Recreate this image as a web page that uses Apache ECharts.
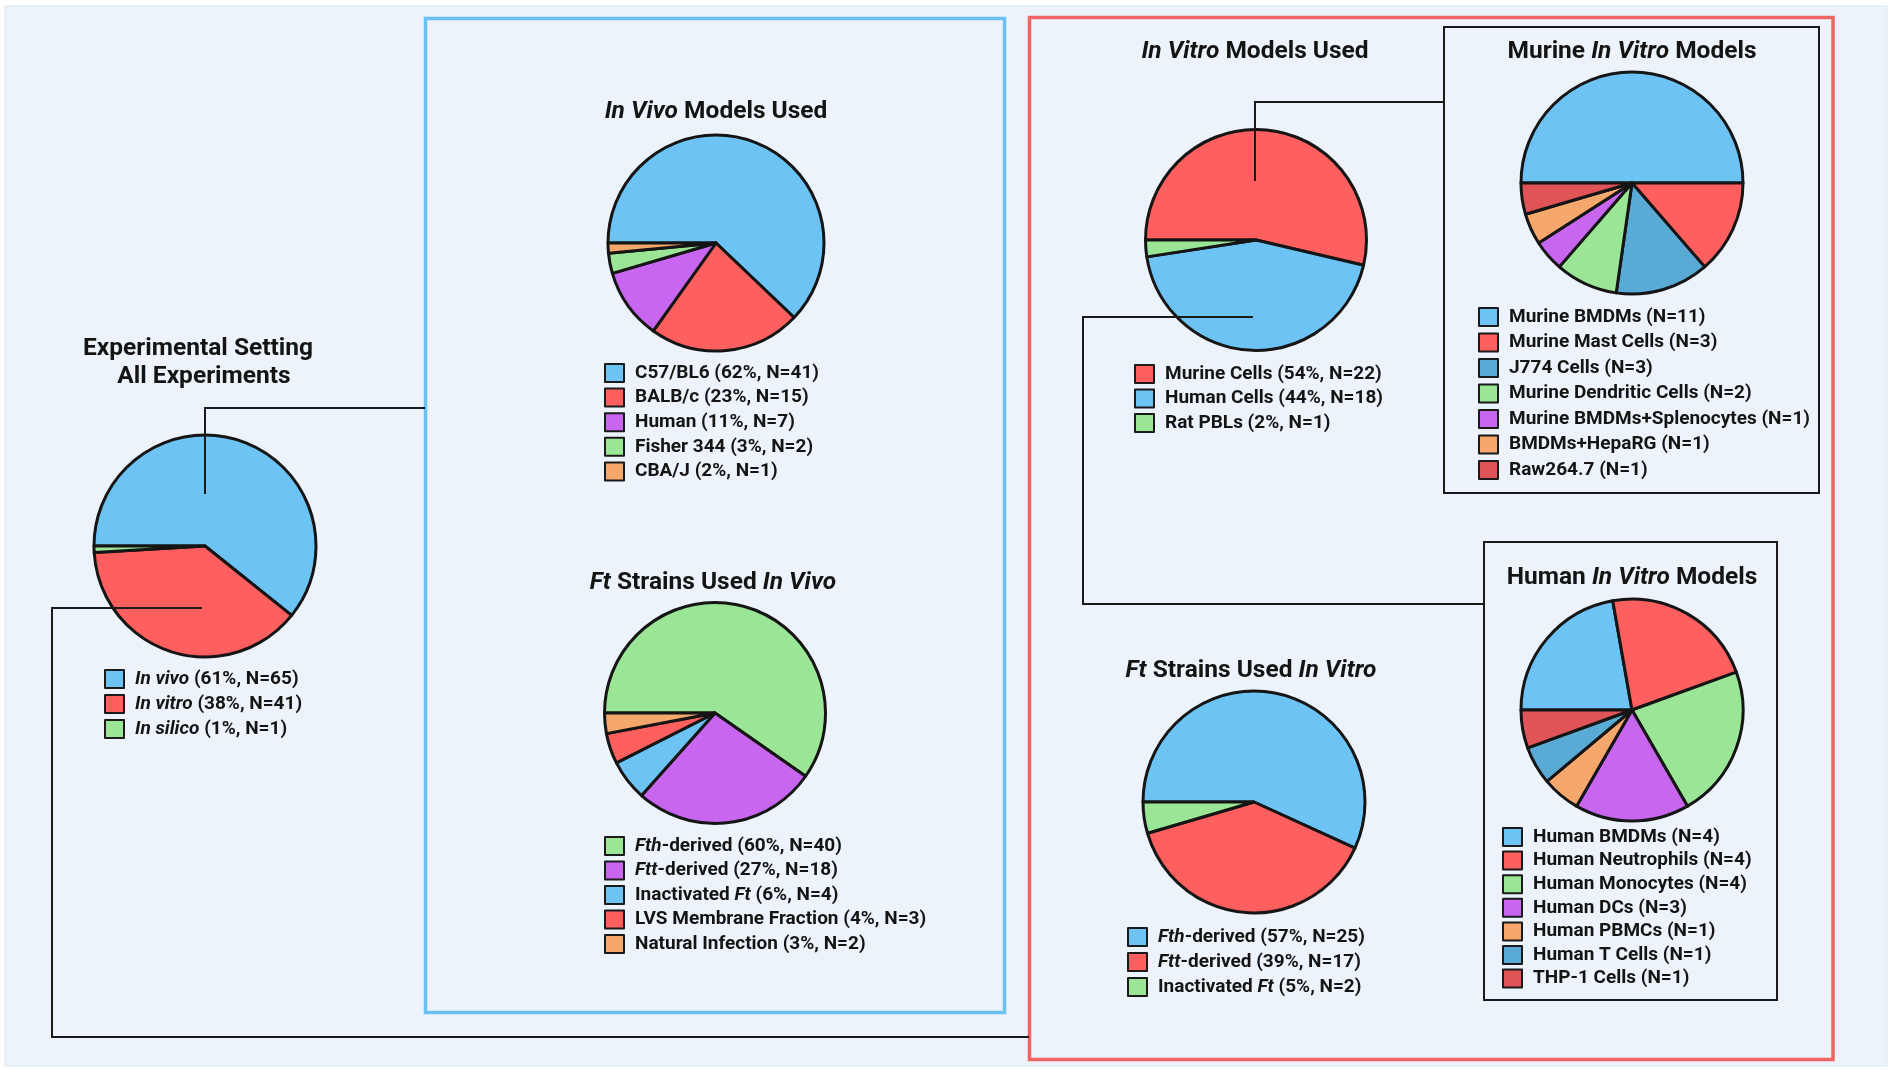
<!DOCTYPE html>
<html>
<head>
<meta charset="utf-8">
<script src="https://cdn.jsdelivr.net/npm/echarts@6.0.0/dist/echarts.min.js"></script>
<style>
  html, body { margin: 0; padding: 0; background: #ffffff; }
  #chart { width: 1892px; height: 1070px; }
</style>
</head>
<body>
<div id="chart"></div>
<script>
// ---------------- DATA ----------------
const C_BLUE = '#6cc3f4', C_RED = '#ff5f5f', C_PURPLE = '#c866f0', C_GREEN = '#9be596',
      C_ORANGE = '#f5a76c', C_STEEL = '#5aaad6', C_DRED = '#e05458';

const settingNames = ['In vivo', 'In vitro', 'In silico'];
const settingValues = [65, 41, 1];
const settingPct = [61, 38, 1];
const settingColors = [C_BLUE, C_RED, C_GREEN];

const vivoNames = ['C57/BL6', 'BALB/c', 'Human', 'Fisher 344', 'CBA/J'];
const vivoValues = [41, 15, 7, 2, 1];
const vivoPct = [62, 23, 11, 3, 2];
const vivoColors = [C_BLUE, C_RED, C_PURPLE, C_GREEN, C_ORANGE];

const ftVivoNames = ['Fth-derived', 'Ftt-derived', 'Inactivated Ft', 'LVS Membrane Fraction', 'Natural Infection'];
const ftVivoValues = [40, 18, 4, 3, 2];
const ftVivoPct = [60, 27, 6, 4, 3];
const ftVivoColors = [C_GREEN, C_PURPLE, C_BLUE, C_RED, C_ORANGE];

const vitroNames = ['Murine Cells', 'Human Cells', 'Rat PBLs'];
const vitroValues = [22, 18, 1];
const vitroPct = [54, 44, 2];
const vitroColors = [C_RED, C_BLUE, C_GREEN];

const murineNames = ['Murine BMDMs', 'Murine Mast Cells', 'J774 Cells', 'Murine Dendritic Cells',
                     'Murine BMDMs+Splenocytes', 'BMDMs+HepaRG', 'Raw264.7'];
const murineValues = [11, 3, 3, 2, 1, 1, 1];
const murineColors = [C_BLUE, C_RED, C_STEEL, C_GREEN, C_PURPLE, C_ORANGE, C_DRED];

const ftVitroNames = ['Fth-derived', 'Ftt-derived', 'Inactivated Ft'];
const ftVitroValues = [25, 17, 2];
const ftVitroPct = [57, 39, 5];
const ftVitroColors = [C_BLUE, C_RED, C_GREEN];

const humanNames = ['Human BMDMs', 'Human Neutrophils', 'Human Monocytes', 'Human DCs',
                    'Human PBMCs', 'Human T Cells', 'THP-1 Cells'];
const humanValues = [4, 4, 4, 3, 1, 1, 1];
const humanColors = [C_BLUE, C_RED, C_GREEN, C_PURPLE, C_ORANGE, C_STEEL, C_DRED];

// ---------------- HELPERS ----------------
const FONT = 'Roboto';
const INK = '#141414';

function labels(names, values, pct) {
  return names.map((n, i) => pct ? `${n} (${pct[i]}%, N=${values[i]})` : `${n} (N=${values[i]})`);
}
function italicize(s) {
  return s.replace(/\b(In vivo|In vitro|In silico|Fth|Ftt|Ft)\b/g, '{i|$1}');
}

const series = [];
const legends = [];

function addPie(id, names, values, pct, colors, center, radius, legendLeft, legendFirstY, pitch) {
  const labs = labels(names, values, pct);
  series.push({
    type: 'pie',
    id: id,
    center: center,
    radius: radius,
    startAngle: 180,
    clockwise: true,
    silent: true,
    animation: false,
    label: { show: false },
    labelLine: { show: false },
    emphasis: { disabled: true },
    itemStyle: { borderColor: '#151515', borderWidth: 3 },
    data: labs.map((l, i) => ({ name: l, value: values[i], itemStyle: { color: colors[i] } }))
  });
  legends.push({
    orient: 'vertical',
    left: legendLeft,
    top: legendFirstY - 10,
    padding: 0,
    itemWidth: 19,
    itemHeight: 18,
    itemGap: pitch - 20,
    icon: 'rect',
    selectedMode: false,
    data: labs,
    itemStyle: { borderColor: '#1a1a1a', borderWidth: 2 },
    formatter: (name) => italicize(name),
    textStyle: {
      fontFamily: FONT, fontSize: 19, fontWeight: 'bold', color: INK, lineHeight: 18,
      padding: [0, 0, 0, 6],
      rich: {
        i: { fontFamily: FONT, fontSize: 19, fontWeight: 'bold', fontStyle: 'italic', color: INK, lineHeight: 18 }
      }
    }
  });
}

addPie('setting', settingNames, settingValues, settingPct, settingColors, [205, 546], 111, 104, 679, 25);
addPie('vivo', vivoNames, vivoValues, vivoPct, vivoColors, [716, 243], 108, 604, 373, 24.6);
addPie('ftvivo', ftVivoNames, ftVivoValues, ftVivoPct, ftVivoColors, [715, 713], 110.5, 604, 846, 24.5);
addPie('vitro', vitroNames, vitroValues, vitroPct, vitroColors, [1256, 240], 110.5, 1134, 374, 24.5);
addPie('murine', murineNames, murineValues, null, murineColors, [1632, 183], 111, 1478, 317, 25.5);
addPie('ftvitro', ftVitroNames, ftVitroValues, ftVitroPct, ftVitroColors, [1254, 802], 111, 1127, 937, 25);
addPie('human', humanNames, humanValues, null, humanColors, [1632, 710], 111, 1502, 837, 23.6);

// ---------------- DECORATION ----------------
function box(x1, y1, x2, y2, stroke, lw, fill, z) {
  return { type: 'rect', z: z, silent: true,
    shape: { x: x1, y: y1, width: x2 - x1, height: y2 - y1 },
    style: { fill: fill || 'transparent', stroke: stroke, lineWidth: lw } };
}
function wire(points) {
  return { type: 'polyline', z: 50, silent: true, shape: { points: points },
    style: { fill: null, stroke: '#1a1a1a', lineWidth: 2 } };
}
const titleRich = {
  i: { fontFamily: FONT, fontSize: 24.5, fontWeight: 'bold', fontStyle: 'italic', fill: INK },
  b: { fontFamily: FONT, fontSize: 24.5, fontWeight: 'bold', fill: INK }
};
function title(text, x, y) {
  return { type: 'text', z: 60, silent: true, x: x, y: y,
    style: { text: text, align: 'center', verticalAlign: 'middle', rich: titleRich,
             fontFamily: FONT, fontSize: 24.5, fontWeight: 'bold', fill: INK } };
}

const graphics = [
  box(5, 6, 1887, 1066, '#dde5ee', 1, '#edf3fb', -10),
  box(425.5, 18.5, 1004.5, 1012.5, '#6cc1f2', 3.5, null, -5),
  box(1029.5, 17.5, 1833, 1059.5, '#f06464', 3.5, null, -5),
  box(1444, 27, 1819, 493, '#1a1a1a', 2, null, -5),
  box(1484, 542, 1777, 1000, '#1a1a1a', 2, null, -5),
  wire([[205, 494], [205, 408], [425, 408]]),
  wire([[202, 608], [52, 608], [52, 1037], [1029, 1037]]),
  wire([[1255, 181], [1255, 102], [1444, 102]]),
  wire([[1253, 317], [1083, 317], [1083, 604], [1484, 604]]),
  title('{b|Experimental Setting}', 198, 349),
  title('{b|All Experiments}', 204, 377),
  title('{i|In Vivo}{b| Models Used}', 716, 112),
  title('{i|Ft}{b| Strains Used }{i|In Vivo}', 713, 583),
  title('{i|In Vitro}{b| Models Used}', 1255, 52),
  title('{b|Murine }{i|In Vitro}{b| Models}', 1632, 52),
  title('{b|Human }{i|In Vitro}{b| Models}', 1632, 578),
  title('{i|Ft}{b| Strains Used }{i|In Vitro}', 1251, 671)
];

const chart = echarts.init(document.getElementById('chart'), null, { renderer: 'canvas' });
chart.setOption({
  backgroundColor: '#ffffff',
  animation: false,
  tooltip: { show: false },
  legend: legends,
  graphic: { elements: graphics },
  series: series
});
</script>
</body>
</html>
